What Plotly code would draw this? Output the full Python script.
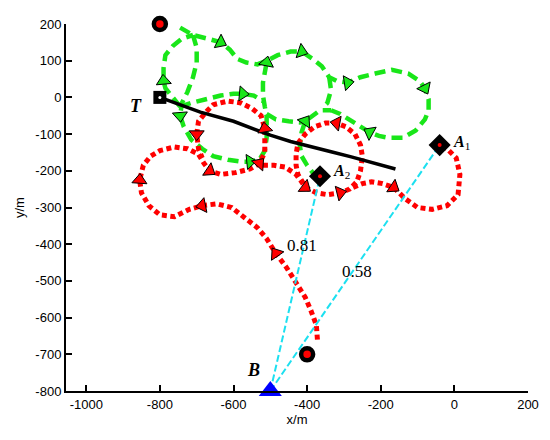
import math
import plotly.graph_objects as go

# ---- data (metres) -------------------------------------------------------
# green pursuer track, drawn as several pieces (arrow = index of an arrow head)
green_a = [(-745, 190), (-710, 170), (-670, 160), (-635, 150), (-610, 130), (-590, 105),
           (-565, 95), (-535, 90), (-510, 100), (-480, 115), (-445, 125), (-415, 125),
           (-385, 105), (-360, 85), (-340, 55), (-320, 45), (-290, 40), (-255, 55),
           (-215, 65), (-170, 75), (-125, 65), (-95, 45), (-80, 25), (-70, -5),
           (-70, -35), (-80, -60), (-105, -90), (-140, -110), (-180, -110), (-205, -105),
           (-230, -95), (-260, -75), (-290, -55), (-310, -45), (-335, -35)]
green_a_arrows = [3, 11, 16, 22, 30]

green_b = [(-745, -25), (-760, -5), (-785, 25), (-790, 45), (-790, 80), (-785, 115),
           (-765, 140), (-740, 160), (-710, 170)]
green_b_arrows = [3]

green_c = [(-710, 170), (-700, 135), (-700, 95), (-710, 55), (-725, 15), (-740, -15),
           (-745, -50), (-735, -80), (-715, -115), (-685, -140), (-655, -160), (-615, -170),
           (-580, -175), (-555, -175), (-530, -170), (-515, -145), (-510, -110), (-510, -80),
           (-510, -50), (-515, -25), (-520, 5), (-520, 40), (-515, 70), (-510, 95)]
green_c_arrows = [6, 13, 23]

green_d = [(-745, -25), (-715, -15), (-675, -5), (-635, 5), (-600, 10), (-575, 10),
           (-545, 5), (-520, -10)]
green_d_arrows = [5]

green_e = [(-510, -45), (-485, -60), (-450, -65), (-420, -68), (-400, -65)]
green_e_arrows = []

green_f = [(-365, -215), (-385, -205), (-400, -185), (-415, -160), (-420, -130), (-415, -95),
           (-405, -65), (-385, -50), (-365, -35), (-335, -35)]
green_f_arrows = [6]

green_g = [(-340, 55), (-335, 20), (-345, -15), (-360, -30)]
green_g_arrows = []

# red pursuer track
red_a = [(-372, -660), (-375, -620), (-390, -580), (-405, -545), (-430, -505), (-455, -465),
         (-485, -425), (-510, -385), (-535, -355), (-565, -330), (-605, -300), (-645, -290),
         (-685, -295), (-720, -305), (-760, -325), (-800, -320), (-830, -295), (-850, -260),
         (-855, -225), (-845, -185), (-825, -160), (-800, -145), (-760, -135), (-725, -140),
         (-695, -155), (-680, -180), (-665, -200), (-635, -210), (-595, -205), (-555, -195),
         (-530, -180), (-515, -150), (-515, -110), (-515, -85), (-525, -50), (-550, -30),
         (-580, -15), (-615, -10), (-655, -20), (-675, -40), (-695, -65), (-700, -100),
         (-695, -140), (-685, -165)]
red_a_arrows = [6, 12, 18, 26, 30, 33, 41]

red_b = [(-520, -185), (-490, -185), (-460, -190), (-430, -210), (-415, -230), (-405, -245),
         (-375, -260), (-345, -265), (-310, -260), (-285, -250), (-265, -230), (-255, -200),
         (-250, -160), (-255, -130), (-270, -100), (-295, -80), (-320, -70), (-350, -70),
         (-380, -80), (-405, -100), (-425, -125), (-430, -155), (-430, -185), (-425, -210),
         (-410, -235)]
red_b_arrows = [5, 8, 16]

red_c = [(-275, -245), (-250, -235), (-225, -230), (-195, -235), (-165, -245), (-135, -275),
         (-100, -300), (-60, -305), (-20, -295), (10, -265), (15, -210), (5, -165),
         (-20, -140), (-40, -130)]
red_c_arrows = [4]

# target track T
target_x = [-800, -745, -690, -600, -530, -500, -445, -390, -335, -280, -245, -160]
target_y = [0, -20, -40, -65, -93, -103, -120, -133, -148, -162, -172, -195]

start_x = [-800, -400]
start_y = [200, -700]
T_pos = (-800, 0)
A1 = (-40, -130)
A2 = (-365, -215)
B = (-500, -800)
ratios = [0.81, 0.58]          # B-A2, B-A1

x_ticks = [-1000, -800, -600, -400, -200, 0, 200]
y_ticks = [200, 100, 0, -100, -200, -300, -400, -500, -600, -700, -800]

GREEN = "#19E619"
RED = "#FF0000"
CYAN = "#1CE0F0"

fig = go.Figure()


def line(pts, color, dash, width):
    fig.add_trace(go.Scatter(x=[p[0] for p in pts], y=[p[1] for p in pts], mode="lines",
                             line=dict(color=color, width=width, dash=dash),
                             hoverinfo="skip", showlegend=False))


def arrows(pts, idx, color):
    ax, ay, ang = [], [], []
    for i in idx:
        p0 = pts[max(i - 1, 0)]
        p1 = pts[min(i + 1, len(pts) - 1)]
        if i == len(pts) - 1:
            p1 = pts[i]
        ax.append(pts[i][0])
        ay.append(pts[i][1])
        ang.append(math.degrees(math.atan2(p1[0] - p0[0], p1[1] - p0[1])))
    fig.add_trace(go.Scatter(x=ax, y=ay, mode="markers", hoverinfo="skip", showlegend=False,
                             marker=dict(symbol="triangle-up", size=13, color=color, angle=ang,
                                         line=dict(color="black", width=1))))


green_parts = [(green_a, green_a_arrows), (green_b, green_b_arrows), (green_c, green_c_arrows),
               (green_d, green_d_arrows), (green_e, green_e_arrows), (green_f, green_f_arrows),
               (green_g, green_g_arrows)]
red_parts = [(red_a, red_a_arrows), (red_b, red_b_arrows), (red_c, red_c_arrows)]

for pts, _ in green_parts:
    line(pts, GREEN, "11px,6px", 4.5)
for pts, _ in red_parts:
    line(pts, RED, "5px,3.5px", 5)

fig.add_trace(go.Scatter(x=target_x, y=target_y, mode="lines", line=dict(color="black", width=3.5),
                         hoverinfo="skip", showlegend=False))

# B -> A links
for a in (A2, A1):
    fig.add_trace(go.Scatter(x=[B[0], a[0]], y=[B[1], a[1]], mode="lines",
                             line=dict(color=CYAN, width=2, dash="7px,3px"),
                             hoverinfo="skip", showlegend=False))

for pts, idx in green_parts:
    if idx:
        arrows(pts, idx, GREEN)
for pts, idx in red_parts:
    arrows(pts, idx, RED)

# point markers
fig.add_trace(go.Scatter(x=start_x, y=start_y, mode="markers", cliponaxis=False, showlegend=False,
                         marker=dict(symbol="circle", size=12, color=RED,
                                     line=dict(color="black", width=4.5))))
fig.add_trace(go.Scatter(x=[T_pos[0]], y=[T_pos[1]], mode="markers", showlegend=False,
                         marker=dict(symbol="square", size=13, color="black")))
fig.add_trace(go.Scatter(x=[T_pos[0]], y=[T_pos[1]], mode="markers", showlegend=False,
                         marker=dict(symbol="circle", size=3, color="white")))
fig.add_trace(go.Scatter(x=[A1[0], A2[0]], y=[A1[1], A2[1]], mode="markers", showlegend=False,
                         marker=dict(symbol="diamond", size=17, color="black")))
fig.add_trace(go.Scatter(x=[A1[0], A2[0]], y=[A1[1], A2[1]], mode="markers", showlegend=False,
                         marker=dict(symbol="circle", size=4, color=RED)))
fig.add_trace(go.Scatter(x=[B[0]], y=[B[1]], mode="markers", cliponaxis=False, showlegend=False,
                         marker=dict(symbol="triangle-up", size=20, color="#0000FF")))

serif = "Liberation Serif, Times New Roman, serif"
labels = [
    (T_pos, "<b><i>T</i></b>", -24, -9, "center", 18),
    (B, "<b><i>B</i></b>", -17, 21, "center", 18),
    (A1, "<b><i>A</i></b><sub>1</sub>", 11, 3, "left", 16),
    (A2, "<b><i>A</i></b><sub>2</sub>", 11, 5, "left", 16),
]
for pos, txt, dx, dy, anchor, size in labels:
    fig.add_annotation(x=pos[0], y=pos[1], text=txt, showarrow=False, xanchor=anchor,
                       yanchor="middle", xshift=dx, yshift=dy,
                       font=dict(family=serif, size=size, color="black"))

# ratio labels sit on the B-A links
for a, r, t, dx in ((A2, ratios[0], 0.68, -2), (A1, ratios[1], 0.484, 5)):
    fig.add_annotation(x=B[0] + t * (a[0] - B[0]), y=B[1] + t * (a[1] - B[1]), text=f"{r:.2f}",
                       showarrow=False, xshift=dx, font=dict(family=serif, size=17, color="black"))

# the page body adds an 8px margin, so the figure is made 8px smaller
axis_font = dict(family="Liberation Sans, Arial, sans-serif", size=13, color="black")
fig.update_layout(
    width=542, height=432,
    margin=dict(l=58, r=22, t=16, b=49),
    paper_bgcolor="white", plot_bgcolor="white",
    showlegend=False,
    font=axis_font,
    xaxis=dict(range=[-1055, 200], tickvals=x_ticks, ticktext=[str(v) for v in x_ticks],
               ticks="inside", ticklen=6, tickwidth=1.5, tickcolor="black",
               showline=True, linecolor="black", linewidth=2, showgrid=False, zeroline=False,
               title=dict(text="x/m", standoff=2, font=axis_font), automargin=False,
               tickfont=axis_font),
    yaxis=dict(range=[-800, 200], tickvals=y_ticks, ticktext=[str(v) for v in y_ticks],
               ticks="inside", ticklen=6, tickwidth=1.5, tickcolor="black",
               showline=True, linecolor="black", linewidth=2, showgrid=False, zeroline=False,
               title=dict(text="y/m", standoff=8, font=axis_font), automargin=False,
               tickfont=axis_font),
)

fig.write_html("out.html")
